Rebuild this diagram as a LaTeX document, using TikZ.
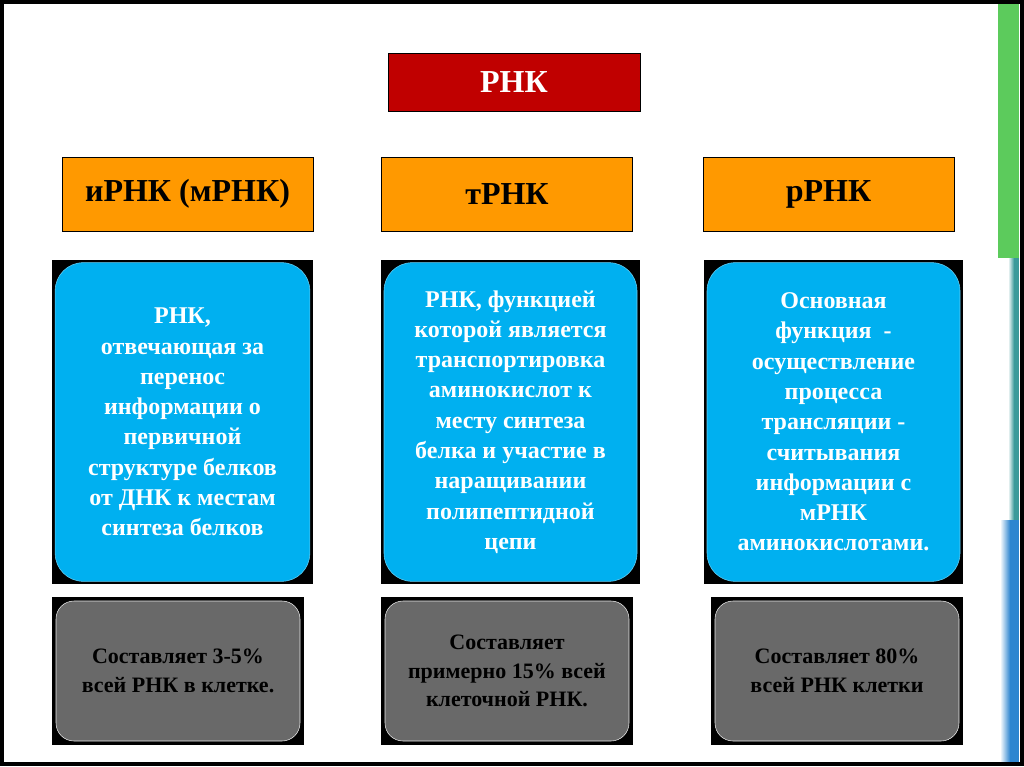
\documentclass[tikz,border=0pt]{standalone}
\usepackage{fontspec}
\setmainfont{Liberation Serif}
\definecolor{rnared}{HTML}{C00000}
\definecolor{rnaorange}{HTML}{FF9900}
\definecolor{rnablue}{HTML}{00B0F0}
\definecolor{rnagray}{HTML}{696969}
\definecolor{bargreen}{HTML}{5CCB5C}
\definecolor{barteal}{HTML}{3A9A9A}
\definecolor{barblue}{HTML}{2E86D0}
\begin{document}
\begin{tikzpicture}[
    x=0.75pt, y=-0.75pt,
    titlebox/.style={rectangle, draw=black, fill=rnared, minimum width=189pt, minimum height=43.5pt, text=white, font=\fontsize{24}{28}\selectfont\bfseries},
    typebox/.style={rectangle, draw=black, fill=rnaorange, minimum width=188pt, minimum height=55.5pt, font=\fontsize{24}{28}\selectfont\bfseries},
    backbox/.style={rectangle, fill=black, inner sep=0pt},
    infobox/.style={rectangle, rounded corners=21pt, fill=rnablue, draw=rnablue!60!white, minimum width=191pt, minimum height=239pt, align=center, text=white, font=\fontsize{18}{22.7}\selectfont\bfseries},
    sharebox/.style={rectangle, rounded corners=13.5pt, fill=rnagray, draw=white!85!gray, minimum width=183pt, minimum height=105pt, align=center, font=\fontsize{16.5}{21.5}\selectfont\bfseries}
]
\useasboundingbox (0,0) rectangle (1024,767);
\fill[white] (0,0) rectangle (1024,767);

% Right edge bars
\fill[bargreen] (998,3) rectangle (1019,258);
\shade[left color=white, right color=barteal] (1008,258) rectangle (1014,520);
\fill[barteal] (1014,258) rectangle (1019,520);
\shade[left color=white, right color=barblue] (1000,520) rectangle (1010,762);
\fill[barblue] (1010,520) rectangle (1019,762);

% Frame
\draw[line width=3pt] (2,2) rectangle (1022,764);

% Title
\node[titlebox] (rna) at (514, 82) {РНК};

% Types
\node[typebox] (mrna) at (187.5, 194) {иРНК (мРНК)};
\node[typebox] (trna) at (507, 194) {тРНК};
\node[typebox] (rrna) at (828.5, 194) {рРНК};

% Functions
\node[backbox, minimum width=195.75pt, minimum height=243pt] (mfunbg) at (182.5, 422) {};
\node[backbox, minimum width=194.25pt, minimum height=243pt] (tfunbg) at (510.5, 422) {};
\node[backbox, minimum width=194.25pt, minimum height=243pt] (rfunbg) at (833.5, 422) {};
\node[infobox] (mfun) at (mfunbg) {РНК,\\отвечающая за\\перенос\\информации о\\первичной\\структуре белков\\от ДНК к местам\\синтеза белков};
\node[infobox, minimum width=189.75pt] (tfun) at (tfunbg) {РНК, функцией\\которой является\\транспортировка\\аминокислот к\\месту синтеза\\белка и участие в\\наращивании\\полипептидной\\цепи};
\node[infobox, minimum width=189.75pt] (rfun) at (rfunbg) {Основная\\функция \ -\\осуществление\\процесса\\трансляции -\\считывания\\информации с\\мРНК\\аминокислотами.};

% Shares
\node[backbox, minimum width=189pt, minimum height=111pt] (mshbg) at (178, 671) {};
\node[backbox, minimum width=189pt, minimum height=111pt] (tshbg) at (507, 671) {};
\node[backbox, minimum width=189pt, minimum height=111pt] (rshbg) at (837, 671) {};
\node[sharebox] (msh) at (mshbg) {Составляет 3-5\%\\всей РНК в клетке.};
\node[sharebox] (tsh) at (tshbg) {Составляет\\примерно 15\% всей\\клеточной РНК.};
\node[sharebox] (rsh) at (rshbg) {Составляет 80\%\\всей РНК клетки};

\end{tikzpicture}
\end{document}
